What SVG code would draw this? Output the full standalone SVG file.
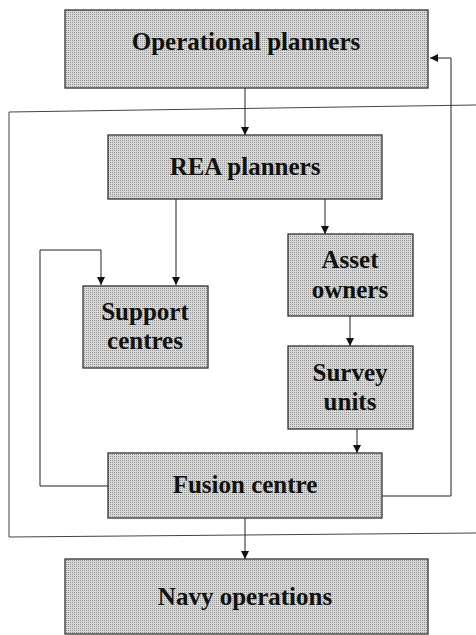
<svg xmlns="http://www.w3.org/2000/svg" width="476" height="635" viewBox="0 0 476 635">
<defs>
<pattern id="dots" width="2" height="2" patternUnits="userSpaceOnUse">
<rect width="2" height="2" fill="#d8d8d8"/>
<rect width="1" height="1" fill="#949494"/>
</pattern>
<marker id="ah" viewBox="0 0 10 10" refX="10" refY="5" markerWidth="8" markerHeight="8" markerUnits="userSpaceOnUse" orient="auto">
<path d="M0,0 L10,5 L0,10 Z" fill="#111"/>
</marker>
</defs>
<style>
.box{fill:url(#dots);stroke:#333;stroke-width:1.3}
.lbl{font-family:"Liberation Serif","Times New Roman",serif;font-weight:bold;font-size:25px;fill:#111;text-anchor:middle}
.c{fill:none;stroke:#222;stroke-width:1}
.frame{fill:none;stroke:#444;stroke-width:1}
</style>
<g id="connectors">
<path class="frame" d="M476,105 L9,112 L9,537 L476,533"/>
<path class="c" d="M245,88 L245,135" marker-end="url(#ah)"/>
<path class="c" d="M176,199 L176,285" marker-end="url(#ah)"/>
<path class="c" d="M325,199 L325,234" marker-end="url(#ah)"/>
<path class="c" d="M108,486 L40,486 L40,250 L101,250 L101,285" marker-end="url(#ah)"/>
<path class="c" d="M350,316 L350,346" marker-end="url(#ah)"/>
<path class="c" d="M357,429 L357,453" marker-end="url(#ah)"/>
<path class="c" d="M382,496 L451,496 L451,58 L430,58" marker-end="url(#ah)"/>
<path class="c" d="M245,518 L245,559" marker-end="url(#ah)"/>
</g>
<g id="operational-planners">
<rect class="box" x="65" y="10" width="363" height="78"/>
<text class="lbl" x="246" y="50">Operational planners</text>
</g>
<g id="rea-planners">
<rect class="box" x="108" y="135" width="274" height="64"/>
<text class="lbl" x="245" y="175">REA planners</text>
</g>
<g id="support-centres">
<rect class="box" x="83" y="286" width="125" height="82"/>
<text class="lbl" x="145" y="320">Support</text>
<text class="lbl" x="145" y="349">centres</text>
</g>
<g id="asset-owners">
<rect class="box" x="288" y="234" width="125" height="82"/>
<text class="lbl" x="350" y="268">Asset</text>
<text class="lbl" x="350" y="298">owners</text>
</g>
<g id="survey-units">
<rect class="box" x="288" y="346" width="125" height="83"/>
<text class="lbl" x="350" y="381">Survey</text>
<text class="lbl" x="350" y="410">units</text>
</g>
<g id="fusion-centre">
<rect class="box" x="108" y="453" width="274" height="65"/>
<text class="lbl" x="245" y="493">Fusion centre</text>
</g>
<g id="navy-operations">
<rect class="box" x="65" y="559" width="363" height="75"/>
<text class="lbl" x="245" y="605">Navy operations</text>
</g>
</svg>
